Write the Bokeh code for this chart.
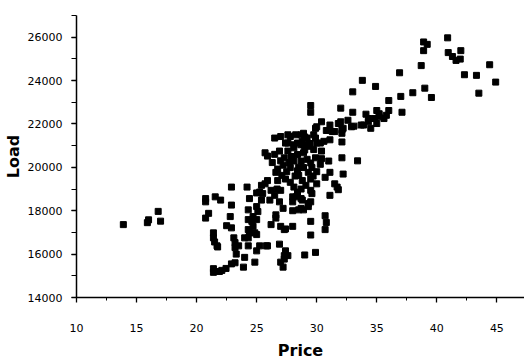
from bokeh.plotting import figure
from bokeh.models import Range1d, SingleIntervalTicker, ColumnDataSource
from bokeh.embed import file_html
from bokeh.resources import INLINE

# Price ($/MWh) and system Load (MW)
price = [
    13.9, 15.9, 16.0, 16.8, 17.0,
    38.9, 39.2, 38.9, 40.9, 40.95, 41.3, 41.6, 42.0, 41.95, 44.4, 44.9, 42.3, 43.3, 43.5, 38.7, 36.9, 33.8, 33.0, 34.9, 39.0, 39.55, 38.0, 36.0, 37.0,
    37.1, 36.0, 35.0, 35.2, 34.1, 33.0, 32.0, 34.3, 34.8, 35.6, 35.8, 32.6, 31.9, 33.9, 34.5, 35.0, 32.9, 32.2, 31.5, 32.1, 32.1, 33.4, 35.2,
    29.5, 29.5, 30.4, 30.0, 32.0, 33.1, 33.7, 34.3, 30.8, 31.3, 32.1, 27.8, 28.7, 29.0, 29.75,
    27.6, 28.4, 28.9, 30.0, 30.6, 31.1,
    29.9, 31.1, 31.8, 26.5, 27.0, 27.6, 28.25, 28.9, 29.2, 29.9, 30.3, 27.4, 28.1, 28.7, 29.3, 29.75, 30.4, 26.9, 25.7, 25.9, 27.6, 28.4, 28.9, 28.1, 28.7, 29.2, 29.9,
    26.75, 26.6, 27.8, 28.4, 28.9, 29.3, 30.3, 31.0, 31.1, 25.9, 25.4, 26.75, 27.4, 27.8, 28.1, 28.8, 29.1, 29.5, 30.0, 30.7, 31.5, 31.7, 25.25, 26.2, 27.0, 28.4, 28.7, 32.1,
    27.3, 27.7, 28.5, 29.6, 27.1, 26.3, 28.1, 32.2,
    26.5, 27.2, 27.9, 28.5, 29.0, 29.5, 30.0, 28.2, 27.5, 29.7, 30.4, 28.8, 27.0, 29.4,
    26.7, 26.1, 26.9, 28.0, 28.0, 28.8, 29.5, 29.5, 29.3, 31.1, 31.8, 27.2, 28.0, 28.5, 26.6, 26.6, 30.7, 30.8, 30.7, 29.5, 26.2, 27.0, 27.4, 28.0, 29.5, 25.9, 26.9, 27.4, 27.3, 27.6, 27.0, 27.2, 27.3, 29.0, 29.9,
    25.7, 22.9, 24.2, 20.75, 20.75, 21.55, 22.0, 22.9, 24.4, 25.0, 25.5, 25.4, 25.0, 24.3, 25.1, 21.0, 20.75, 22.8, 24.3, 24.7, 22.5, 22.9, 24.3, 24.85, 25.0, 21.4, 21.4, 21.5, 21.7, 23.1, 23.2, 23.5, 24.3, 24.3, 25.25, 25.8, 23.3, 24.0, 24.85, 22.9, 23.9, 21.4, 21.4, 22.1, 22.45, 21.9,
    28.3, 28.7, 28.9, 29.3, 29.6, 24.6, 25.0, 24.7, 27.3, 24.4, 24.0, 25.0, 21.75, 23.2, 23.2, 26.5, 28.7,
]
load = [
    17360, 17450, 17580, 17970, 17520,
    25780, 25670, 25380, 25970, 25290, 25110, 24930, 25380, 24990, 24730, 23930, 24270, 24240, 23420, 24690, 24360, 24010, 23480, 23730, 23650, 23220, 23440, 23080, 23270,
    22540, 22620, 22620, 22470, 22450, 22540, 22730, 22250, 22250, 22250, 22400, 22170, 22020, 21950, 21800, 22020, 21870, 21800, 21650, 21570, 21170, 20300, 22330,
    22850, 22540, 22100, 21870, 22100, 21900, 21950, 22100, 21700, 21650, 21720, 21420, 21500, 21400, 21500,
    21120, 21120, 21040, 21120, 21200, 21270,
    21800, 21950, 22020, 21350, 21420, 21500, 21500, 21570, 21350, 21350, 21120, 21120, 21040, 21040, 20970, 20820, 20750, 20750, 20670, 20520, 20750, 20590, 20670, 20290, 20290, 20370, 20440,
    19920, 19770, 19990, 19840, 19990, 19770, 20140, 20290, 19770, 19390, 19170, 19390, 19460, 19310, 19090, 19390, 19170, 19460, 19240, 19540, 19240, 19090, 18860, 18940, 18940, 18860, 19000, 20440,
    20440, 20220, 19630, 19990, 19630, 20220, 20900, 19690,
    20600, 20100, 20500, 20000, 20800, 20200, 19800, 19600, 19800, 19600, 20400, 21200, 20300, 21100,
    19000, 18490, 18410, 18640, 18410, 18490, 18940, 18410, 18190, 18710, 18970, 18110, 18000, 18040, 17810, 17660, 17770, 17460, 17130, 17510, 17360, 17280, 17160, 17280, 16880, 16380, 16460, 16150, 15930, 15930, 15630, 15400, 15770, 15960, 16080,
    19240, 19090, 19090, 18560, 18410, 18640, 18490, 18260, 18560, 18820, 18790, 18490, 18190, 18040, 17960, 17880, 17660, 17730, 17590, 17730, 17310, 17210, 17130, 16980, 16900, 16980, 16750, 16560, 16380, 16750, 16530, 16380, 16750, 16380, 16380, 16380, 16000, 15850, 15630, 15550, 15400, 15330, 15160, 15250, 15340, 15200,
    18640, 18110, 18040, 18330, 18790, 17510, 17590, 17280, 17130, 16980, 16750, 16150, 16330, 16300, 15600, 18710, 18560,
]

x_start, x_end = 10, 47.3
y_start, y_end = 14000, 27000

src = ColumnDataSource(data=dict(price=price, load=load))

p = figure(width=524, height=362, output_backend="svg", toolbar_location=None,
           x_range=Range1d(x_start, x_end), y_range=Range1d(y_start, y_end),
           min_border_left=69, min_border_right=0, min_border_top=15, min_border_bottom=59)

p.scatter("price", "load", source=src, marker="square", size=6,
          fill_color="black", line_color="black")

p.grid.visible = False
p.outline_line_color = None
p.background_fill_color = "white"
p.border_fill_color = "white"

p.xaxis.ticker = SingleIntervalTicker(interval=5, num_minor_ticks=2)
p.yaxis.ticker = SingleIntervalTicker(interval=2000, num_minor_ticks=2)

for ax in (p.xaxis[0], p.yaxis[0]):
    ax.axis_line_color = "black"
    ax.axis_line_width = 1.5
    ax.major_tick_line_width = 1.3
    ax.minor_tick_line_width = 1.0
    ax.major_tick_in = 0
    ax.minor_tick_in = 0
    ax.major_tick_out = 5
    ax.minor_tick_out = 3
    ax.major_label_text_font = "DejaVu Sans"
    ax.major_label_text_font_size = "11px"
    ax.major_label_text_color = "black"
    ax.axis_label_text_font = "DejaVu Sans"
    ax.axis_label_text_font_size = "16px"
    ax.axis_label_text_font_style = "bold"
    ax.axis_label_text_color = "black"

p.xaxis.axis_label = "Price"
p.yaxis.axis_label = "Load"
p.xaxis.major_label_standoff = 21
p.xaxis.axis_label_standoff = 6
p.yaxis.major_label_standoff = 9
p.yaxis.axis_label_standoff = 2
p.yaxis.minor_tick_out = 5
p.yaxis.major_label_text_baseline = "top"

open("out.html", "w").write(file_html(p, INLINE))
